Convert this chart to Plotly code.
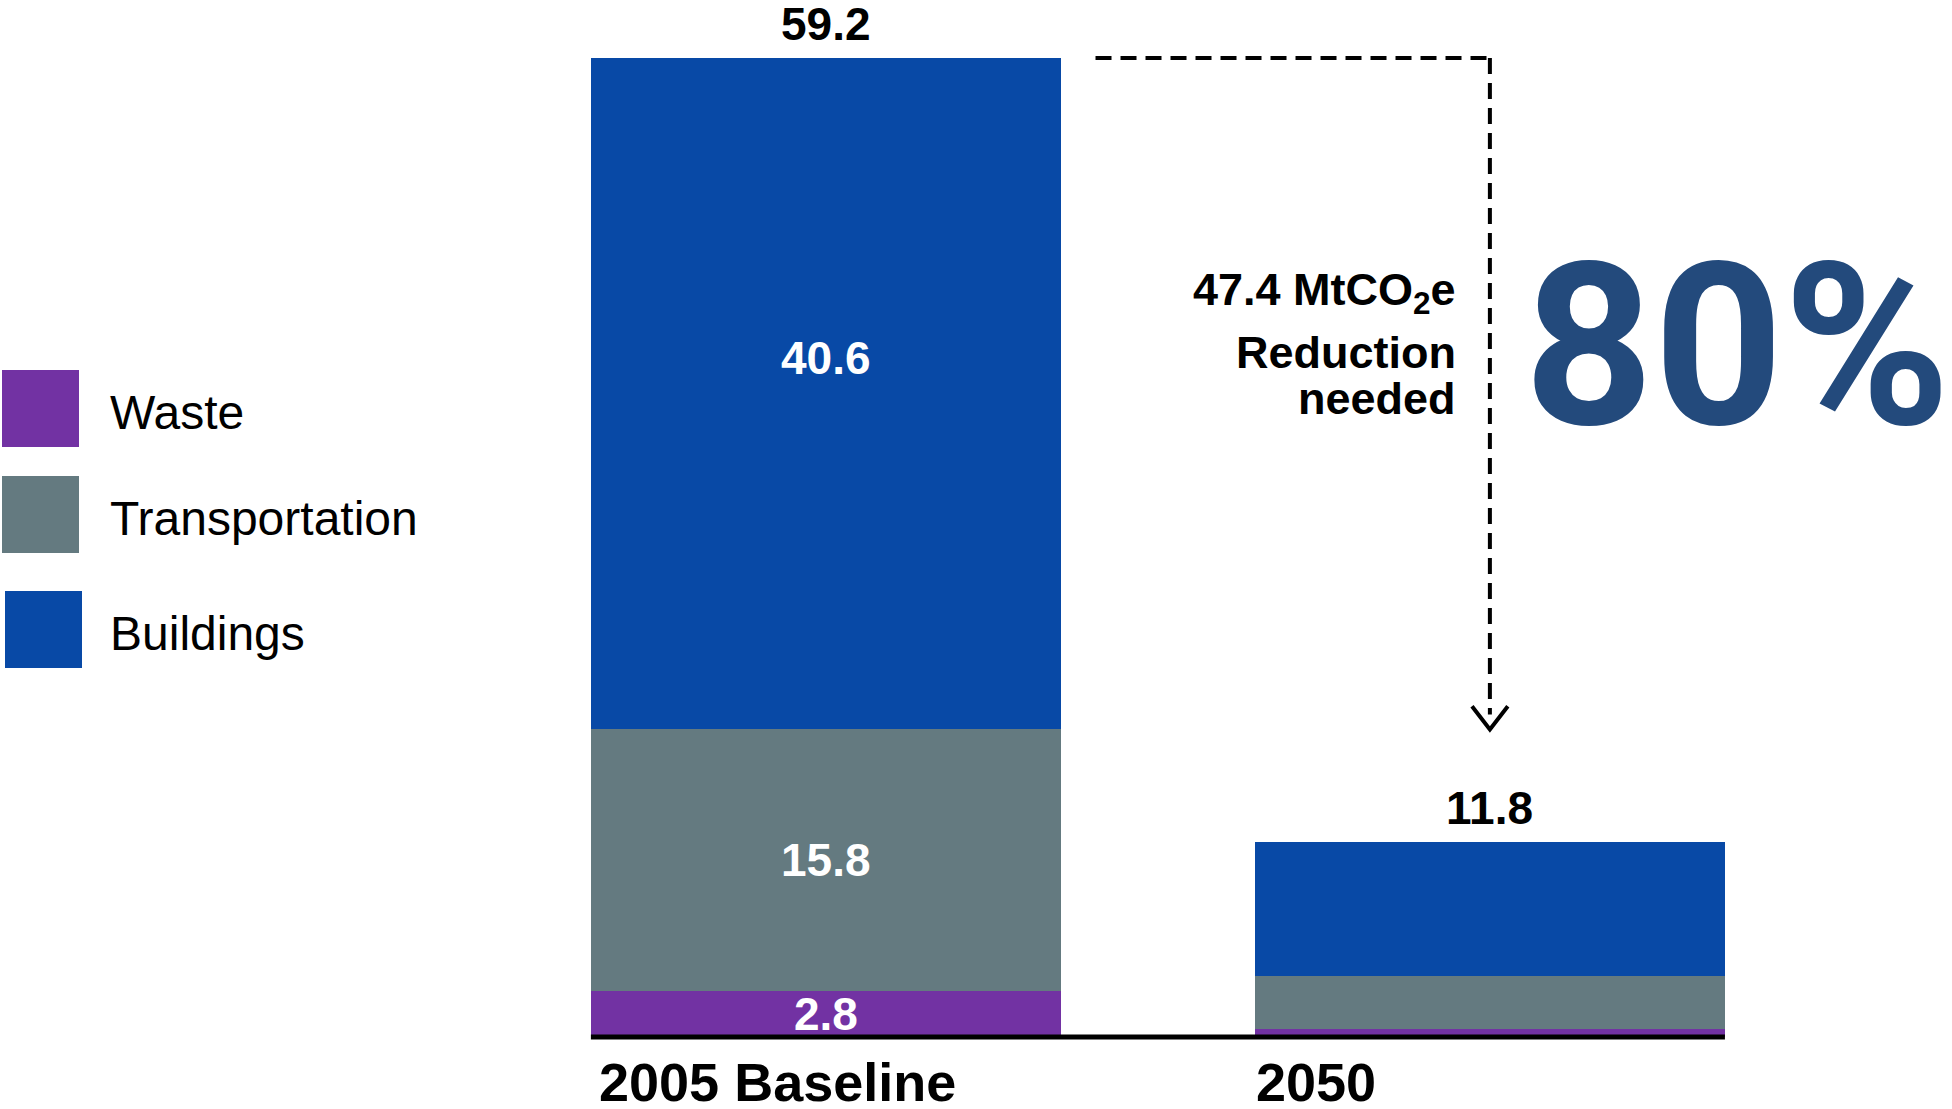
import plotly.graph_objects as go

# --- data -------------------------------------------------------------
categories = ["2005 Baseline", "2050"]
sectors = ["Waste", "Transportation", "Buildings"]
waste = [2.8, 0.5]
transportation = [15.8, 3.2]
buildings = [40.6, 8.1]
totals = [59.2, 11.8]
reduction_mt = 47.4

# --- styling ----------------------------------------------------------
W, H = 1952, 1109
colors = {"Waste": "#7232a3", "Transportation": "#647a80", "Buildings": "#0849a6"}
series = {"Waste": waste, "Transportation": transportation, "Buildings": buildings}
BOLD = "Liberation Sans, Arial, Helvetica, sans-serif"

# axis ranges chosen so bars sit where the layout needs them
X_RANGE = [-1.244, 1.696]
Y_RANGE = [-4.354, 62.71]
BAR_W = 0.708

fig = go.Figure()
for s in sectors:
    fig.add_trace(go.Bar(
        x=categories, y=series[s], name=s,
        marker=dict(color=colors[s], line=dict(width=0)),
        width=BAR_W, showlegend=False, hoverinfo="x+y+name",
    ))

annotations = []
shapes = []

# segment value labels on the baseline bar (category index 0)
label_shift = {"Waste": 0, "Transportation": 0, "Buildings": 36}
base = 0.0
for s in sectors:
    v = series[s][0]
    annotations.append(dict(
        x=0, y=base + v / 2, xref="x", yref="y",
        text=f"<b>{v:.1f}</b>", showarrow=False, yshift=label_shift[s],
        font=dict(family=BOLD, size=46, color="white"),
    ))
    base += v

# totals above each bar
for i, t in enumerate(totals):
    annotations.append(dict(
        x=i, y=t, xref="x", yref="y", yanchor="bottom",
        text=f"<b>{t:.1f}</b>", showarrow=False, yshift=6,
        font=dict(family=BOLD, size=46, color="black"),
    ))

# category labels, left-aligned under each bar
label_xshift = [-229, -236]
for i, c in enumerate(categories):
    annotations.append(dict(
        x=i, y=0, xref="x", yref="y", xanchor="left", yanchor="top",
        text=f"<b>{c}</b>", showarrow=False, xshift=label_xshift[i], yshift=-13,
        font=dict(family=BOLD, size=54, color="black"),
    ))

# baseline rule under the bars
shapes.append(dict(type="line", xref="x", yref="y",
                   x0=-BAR_W / 2, x1=1 + BAR_W / 2, y0=0, y1=0,
                   line=dict(color="black", width=5)))

# dashed reduction arrow from the baseline total down toward 2050
arrow_x0 = BAR_W / 2 + 0.052
arrow_tip = 18.6
dash = dict(color="black", width=4, dash="16px,9px")
shapes.append(dict(type="line", xref="x", yref="y",
                   x0=arrow_x0, x1=1, y0=totals[0], y1=totals[0], line=dash))
shapes.append(dict(type="line", xref="x", yref="y",
                   x0=1, x1=1, y0=totals[0], y1=arrow_tip + 0.9, line=dash))
shapes.append(dict(type="path", xref="x", yref="y",
                   path=f"M {1 - 0.027} {arrow_tip + 1.4} L 1 {arrow_tip} L {1 + 0.027} {arrow_tip + 1.4}",
                   line=dict(color="black", width=4)))

# reduction note beside the arrow
note_lines = [f"{reduction_mt:.1f} MtCO<sub>2</sub>e", "Reduction", "needed"]
note_y = [292, 352, 398]
for txt, py in zip(note_lines, note_y):
    annotations.append(dict(
        x=1458 / W, y=1 - py / H, xref="paper", yref="paper",
        xanchor="right", yanchor="middle", showarrow=False,
        text=f"<b>{txt}</b>",
        font=dict(family=BOLD, size=45, color="black"),
    ))

# headline percentage
pct = round(reduction_mt / totals[0] * 100)
annotations.append(dict(
    x=1952 / W, y=1 - 346 / H, xref="paper", yref="paper",
    xanchor="right", yanchor="middle", showarrow=False,
    text=f"<b>{pct}%</b>",
    font=dict(family="Roboto, Open Sans, sans-serif", size=226, color="#234a7c"),
))

# legend: large swatches with labels
legend_items = [("Waste", 2, 370), ("Transportation", 2, 476), ("Buildings", 5, 591)]
SW = 77
for name, lx, ly in legend_items:
    shapes.append(dict(type="rect", xref="paper", yref="paper",
                       x0=lx / W, x1=(lx + SW) / W, y0=1 - ly / H, y1=1 - (ly + SW) / H,
                       fillcolor=colors[name], line=dict(width=0)))
    annotations.append(dict(
        x=108 / W, y=1 - (ly + SW / 2 + 4) / H, xref="paper", yref="paper",
        xanchor="left", yanchor="middle", showarrow=False, text=name,
        font=dict(family="Liberation Sans, Arial, Helvetica, sans-serif", size=48, color="black"),
    ))

fig.update_layout(
    width=W, height=H,
    margin=dict(l=0, r=0, t=0, b=0),
    barmode="stack",
    paper_bgcolor="white", plot_bgcolor="white",
    xaxis=dict(range=X_RANGE, visible=False, type="category"),
    yaxis=dict(range=Y_RANGE, visible=False),
    annotations=annotations, shapes=shapes,
)

fig.write_html("out.html")
